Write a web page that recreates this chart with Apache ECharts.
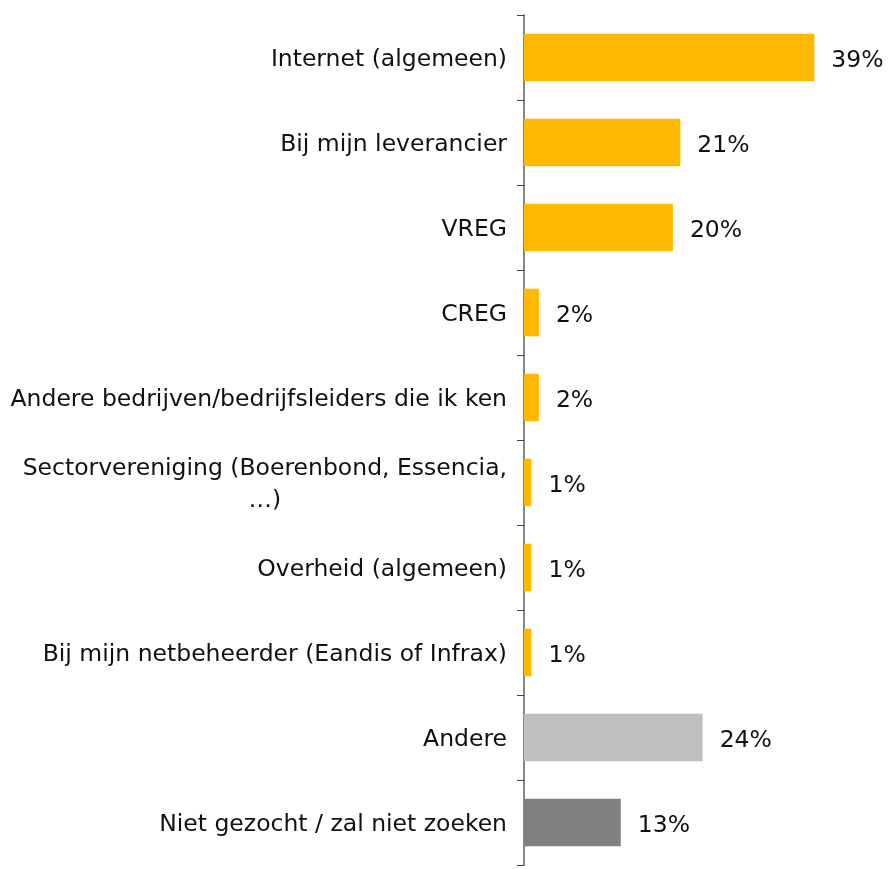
<!DOCTYPE html>
<html>
<head>
<meta charset="utf-8">
<script src="https://cdn.jsdelivr.net/npm/echarts@6/dist/echarts.min.js"></script>
<style>
  html, body { margin: 0; padding: 0; background: #fff; }
  #chart { width: 889px; height: 869px; }
</style>
</head>
<body>
<div id="chart"></div>
<script>
// categorieën (van boven naar onder)
var categories = [
  "Internet (algemeen)",
  "Bij mijn leverancier",
  "VREG",
  "CREG",
  "Andere bedrijven/bedrijfsleiders die ik ken",
  "Sectorvereniging (Boerenbond, Essencia,\n…)",
  "Overheid (algemeen)",
  "Bij mijn netbeheerder (Eandis of Infrax)",
  "Andere",
  "Niet gezocht / zal niet zoeken"
];
var values = [39, 21, 20, 2, 2, 1, 1, 1, 24, 13];
var barColors = ["#FFB900", "#FFB900", "#FFB900", "#FFB900", "#FFB900",
                 "#FFB900", "#FFB900", "#FFB900", "#BFBFBF", "#808080"];

var font = "DejaVu Sans";
var fs = 23.5;

var chart = echarts.init(document.getElementById("chart"));
chart.setOption({
  animation: false,
  grid: { left: 524, right: 30, top: 15, bottom: 4 },
  xAxis: {
    type: "value",
    min: 0,
    max: 45,
    show: false
  },
  yAxis: {
    type: "category",
    inverse: true,
    data: categories,
    axisLine: { lineStyle: { color: "#868686", width: 2 } },
    axisTick: { show: true, length: 7, lineStyle: { color: "#444" } },
    axisLabel: {
      margin: 17,
      color: "#111",
      fontFamily: font,
      fontSize: fs,
      lineHeight: 32,
      formatter: function (v) {
        return v.split("\n").map(function (s) { return "{c|" + s + "}"; }).join("\n");
      },
      rich: {
        c: { align: "center", fontFamily: font, fontSize: fs, color: "#111", lineHeight: 32, padding: [4, 0, 0, 0] }
      }
    }
  },
  series: [{
    type: "bar",
    barWidth: "56%",
    data: values.map(function (v, i) {
      return { value: v, itemStyle: { color: barColors[i] } };
    }),
    label: {
      show: true,
      position: "right",
      distance: 17,
      offset: [0, 3],
      color: "#111",
      fontFamily: font,
      fontSize: fs,
      formatter: "{c}%"
    }
  }]
});
</script>
</body>
</html>
